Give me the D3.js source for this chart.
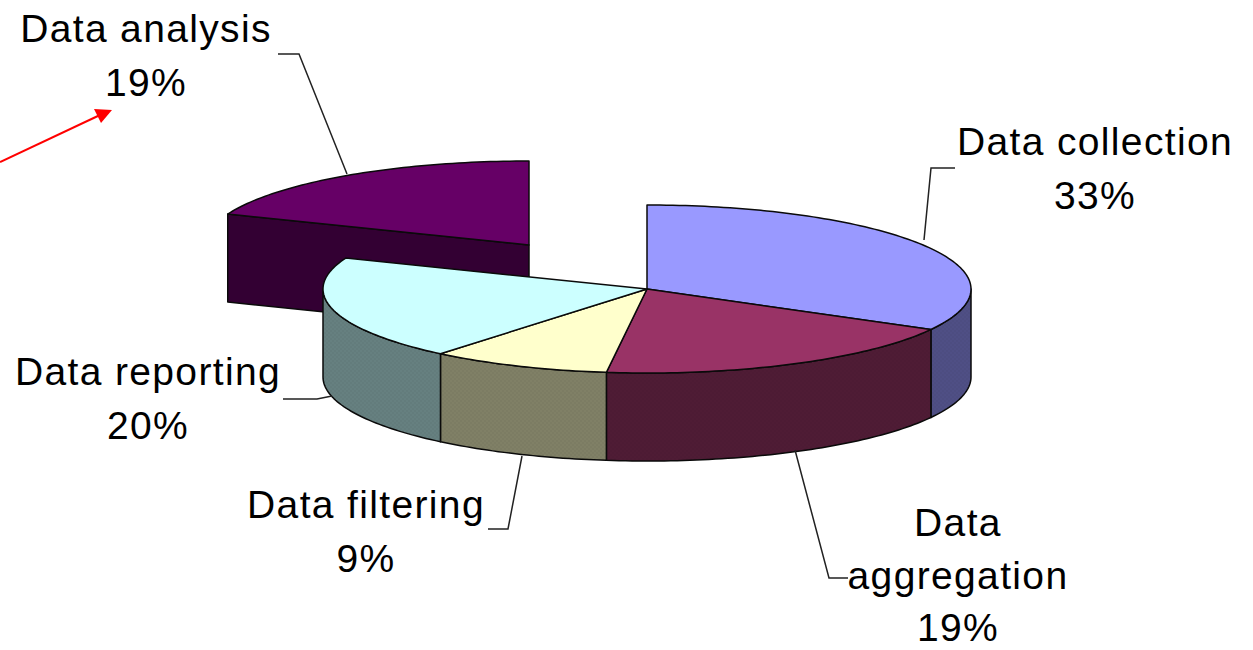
<!DOCTYPE html>
<html>
<head>
<meta charset="utf-8">
<style>
  html, body { margin: 0; padding: 0; background: #fff; }
  svg { display: block; }
  text { font-family: "Liberation Sans", Arial, sans-serif; font-size: 39px; letter-spacing: 1.35px; fill: #000; text-anchor: middle; }
</style>
</head>
<body>
<svg id="chart" width="1253" height="650"></svg>
<script src="https://cdn.jsdelivr.net/npm/d3@7/dist/d3.min.js"></script>
<script>
// Share of effort per stage of the data pipeline, clockwise from twelve o'clock
const stages = ["Data collection", "Data aggregation", "Data filtering", "Data reporting", "Data analysis"];
const shares = [33, 19, 9, 20, 19];
const topColors = ["#9999ff", "#993366", "#ffffcc", "#ccffff", "#660066"];
const wallColors = ["#4f4f85", "#4f1c35", "#808066", "#668080", "#330033"];
const pulledOut = [false, false, false, false, true];

// Disc geometry on the page
const cx = 647, cy = 289, rx = 324, ry = 84, depth = 88;
const pullDx = -118, pullDy = -44;

const xScale = d3.scaleLinear().domain([-1, 1]).range([cx - rx, cx + rx]);
const yScale = d3.scaleLinear().domain([-1, 1]).range([cy - ry, cy + ry]);

const svg = d3.select("#chart");

// Walls carry a fine checker shading
const defs = svg.append("defs");
wallColors.forEach((c, i) => {
  const p = defs.append("pattern")
    .attr("id", "wall-" + i)
    .attr("width", 4).attr("height", 4)
    .attr("patternUnits", "userSpaceOnUse");
  p.append("rect").attr("width", 4).attr("height", 4).attr("fill", c);
  const shade = d3.color(c).darker(0.08).formatHex();
  p.append("rect").attr("width", 2).attr("height", 2).attr("fill", shade);
  p.append("rect").attr("x", 2).attr("y", 2).attr("width", 2).attr("height", 2).attr("fill", shade);
});

const slices = d3.pie().sort(null).value(d => d.share)(
  stages.map((name, i) => ({
    name,
    index: i,
    share: shares[i],
    top: topColors[i],
    wall: wallColors[i],
    pulled: pulledOut[i]
  }))
);

// Projects an angle (clockwise from north) on the unit circle to the page
function rim(angle, s, drop = 0) {
  const ox = s.data.pulled ? pullDx : 0;
  const oy = s.data.pulled ? pullDy : 0;
  return [xScale(Math.sin(angle)) + ox, yScale(-Math.cos(angle)) + oy + drop];
}
function hub(s, drop = 0) {
  const ox = s.data.pulled ? pullDx : 0;
  const oy = s.data.pulled ? pullDy : 0;
  return [xScale(0) + ox, yScale(0) + oy + drop];
}
function arcPoints(a0, a1, s, drop = 0) {
  const n = Math.max(2, Math.ceil((a1 - a0) / 0.02));
  return d3.range(n + 1).map(i => rim(a0 + (a1 - a0) * i / n, s, drop));
}
const path = d3.line();

const stroke = "#0a0a0a";
const strokeWidth = 1.5;

// The pulled-out slice sits behind the disc, so it is painted first
const paintOrder = slices.slice().sort((a, b) => (b.data.pulled ? 1 : 0) - (a.data.pulled ? 1 : 0));

paintOrder.forEach(s => {
  const g = svg.append("g").attr("class", "slice");
  const wallFill = s.data.pulled ? s.data.wall : `url(#wall-${s.data.index})`;

  // Cut face of a pulled-out slice
  if (s.data.pulled) {
    const pts = [hub(s), rim(s.startAngle, s), rim(s.startAngle, s, depth), hub(s, depth)];
    g.append("path")
      .attr("d", path(pts) + "Z")
      .attr("fill", wallFill)
      .attr("stroke", stroke)
      .attr("stroke-width", strokeWidth)
      .attr("stroke-linejoin", "round");
  }

  // Outer wall, only where the rim faces the viewer
  const a0 = Math.max(s.startAngle, Math.PI / 2);
  const a1 = Math.min(s.endAngle, Math.PI * 1.5);
  if (a1 > a0) {
    const upper = arcPoints(a0, a1, s);
    const lower = arcPoints(a0, a1, s, depth).reverse();
    g.append("path")
      .attr("d", path(upper.concat(lower)) + "Z")
      .attr("fill", wallFill)
      .attr("stroke", stroke)
      .attr("stroke-width", strokeWidth)
      .attr("stroke-linejoin", "round");
  }
});

// Top faces go last so they cover the walls' upper edges
paintOrder.forEach(s => {
  const pts = [hub(s)].concat(arcPoints(s.startAngle, s.endAngle, s));
  svg.append("path")
    .attr("class", "slice-top")
    .attr("d", path(pts) + "Z")
    .attr("fill", s.data.top)
    .attr("stroke", stroke)
    .attr("stroke-width", strokeWidth)
    .attr("stroke-linejoin", "round");
});

// Leader lines from each label to its slice
const leaders = [
  [[955, 168], [931, 168], [924, 240]],
  [[848, 578], [829, 578], [795, 450]],
  [[488, 529], [508, 529], [522, 456]],
  [[283, 399], [317, 399], [332, 396]],
  [[278, 54], [299, 54], [347, 174]]
];
svg.append("g").selectAll("path").data(leaders).join("path")
  .attr("d", path)
  .attr("fill", "none")
  .attr("stroke", "#222")
  .attr("stroke-width", 1.5);

// Label blocks: name line(s) followed by the percentage
const labelAnchors = [
  { x: 1095, y: 155, step: 54, lines: ["Data collection"] },
  { x: 958, y: 536, step: 52.5, lines: ["Data", "aggregation"] },
  { x: 366, y: 518, step: 54, lines: ["Data filtering"] },
  { x: 148, y: 385, step: 54, lines: ["Data reporting"] },
  { x: 146, y: 42, step: 54, lines: ["Data analysis"] }
];
labelAnchors.forEach((a, i) => {
  const rows = a.lines.concat([shares[i] + "%"]);
  rows.forEach((row, r) => {
    svg.append("text").attr("x", a.x).attr("y", a.y + r * a.step).text(row);
  });
});

// Red callout arrow pointing at the analysis share
svg.append("path")
  .attr("d", path([[0, 162], [100, 115]]))
  .attr("stroke", "#f00")
  .attr("stroke-width", 2)
  .attr("fill", "none");
svg.append("path")
  .attr("d", path([[112, 110], [94, 109], [101, 123]]) + "Z")
  .attr("fill", "#f00");
</script>
</body>
</html>
